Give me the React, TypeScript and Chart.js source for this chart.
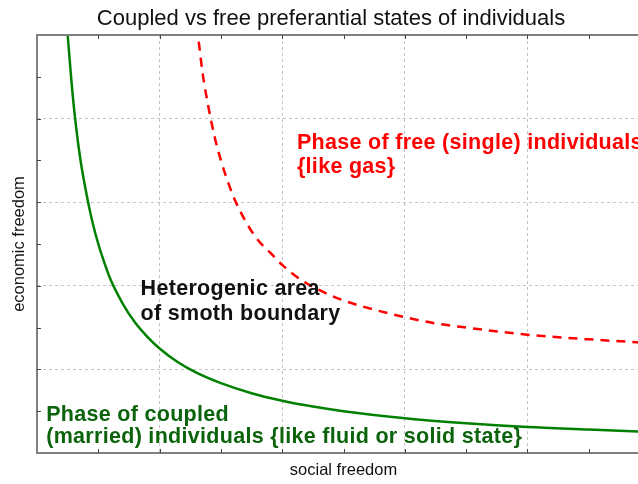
import React, { useEffect, useRef } from "react";
import { Chart, registerables } from "chart.js";

Chart.register(...registerables);

const TITLE = "Coupled vs free preferantial states of individuals";
const X_TITLE = "social freedom";
const Y_TITLE = "economic freedom";

// coupled (married) boundary — solid green
const greenX = [0.48, 0.5, 0.55, 0.6, 0.7, 0.8, 0.9, 1.0, 1.1, 1.2, 1.4, 1.6, 1.8, 2.0, 2.3, 2.6, 3.0, 3.5, 4.0, 4.5, 5.0, 6.0, 7.0, 8.0, 9.0, 10.0];
const greenY = [10.4, 10.0, 9.1, 8.3, 7.1, 6.25, 5.55, 5.0, 4.55, 4.15, 3.57, 3.12, 2.78, 2.5, 2.17, 1.92, 1.67, 1.43, 1.25, 1.11, 1.0, 0.83, 0.71, 0.62, 0.56, 0.5];

// free (single) boundary — dashed red
const redX = [2.58, 2.6, 2.65, 2.7, 2.8, 2.9, 3.0, 3.1, 3.2, 3.4, 3.6, 3.8, 4.0, 4.3, 4.6, 5.0, 5.5, 6.0, 6.5, 7.0, 8.0, 9.0, 10.0];
const redY = [10.6, 10.3, 9.7, 9.1, 8.25, 7.55, 7.0, 6.55, 6.15, 5.55, 5.1, 4.8, 4.5, 4.15, 3.9, 3.65, 3.43, 3.25, 3.1, 3.0, 2.83, 2.72, 2.63];

const minorTicks = [1, 2, 3, 4, 5, 6, 7, 8, 9];
const gridValues = [2, 4, 6, 8];

const redLabel = ["Phase of free (single) individuals", "{like gas}"];
const blackLabel = ["Heterogenic area", "of smoth boundary"];
const greenLabel = ["Phase of coupled", "(married) individuals {like fluid or solid state}"];

const FONT = '"Liberation Sans", Arial, Helvetica, sans-serif';

const textBlocks = [
  { lines: redLabel, x: 4.24, y: 7.27, color: "#ff0000", step: 23.5 },
  { lines: blackLabel, x: 1.69, y: 3.78, color: "#111111", step: 25 },
  { lines: greenLabel, x: 0.15, y: 0.77, color: "#0b640b", step: 22.5 },
];

const decorPlugin = {
  id: "decor",
  afterDatasetsDraw(chart: any) {
    const { ctx, scales } = chart;
    const xs = scales.x;
    const ys = scales.y;
    ctx.save();
    ctx.font = `bold 21.5px ${FONT}`;
    (ctx as any).letterSpacing = "0.3px";
    ctx.textAlign = "left";
    ctx.textBaseline = "alphabetic";
    for (const b of textBlocks) {
      const px = xs.getPixelForValue(b.x);
      const py = ys.getPixelForValue(b.y);
      ctx.fillStyle = b.color;
      b.lines.forEach((line, i) => ctx.fillText(line, px, py + i * b.step));
    }
    ctx.restore();
  },
  afterDraw(chart: any) {
    const { ctx, chartArea, scales, width } = chart;
    const { left, top, right, bottom } = chartArea;
    ctx.save();
    // title
    ctx.font = `22px ${FONT}`;
    ctx.fillStyle = "#111";
    ctx.textAlign = "center";
    ctx.textBaseline = "alphabetic";
    ctx.fillText(TITLE, width / 2, 24.5);
    // frame
    ctx.strokeStyle = "#808080";
    ctx.lineWidth = 2;
    ctx.beginPath();
    ctx.moveTo(right + 5, top);
    ctx.lineTo(left, top);
    ctx.lineTo(left, bottom);
    ctx.lineTo(right + 5, bottom);
    ctx.stroke();
    // minor tick marks
    ctx.strokeStyle = "#444";
    ctx.lineWidth = 1;
    ctx.beginPath();
    for (const v of minorTicks) {
      const px = Math.round(scales.x.getPixelForValue(v)) + 0.5;
      ctx.moveTo(px, top);
      ctx.lineTo(px, top + 4);
      ctx.moveTo(px, bottom);
      ctx.lineTo(px, bottom - 4);
      const py = Math.round(scales.y.getPixelForValue(v)) + 0.5;
      ctx.moveTo(left, py);
      ctx.lineTo(left + 4, py);
    }
    ctx.stroke();
    ctx.restore();
  },
};

export default function App() {
  const ref = useRef<HTMLCanvasElement>(null);
  useEffect(() => {
    if (!ref.current) return;
    const gridColor = (c: any) =>
      c.tick && gridValues.includes(c.tick.value) ? "#c4c4c4" : "rgba(0,0,0,0)";
    const chart = new Chart(ref.current, {
      type: "scatter",
      data: {
        datasets: [
          {
            label: "coupled",
            data: greenX.map((x, i) => ({ x, y: greenY[i] })),
            showLine: true,
            borderColor: "#008000",
            borderWidth: 2.5,
            pointRadius: 0,
            cubicInterpolationMode: "monotone",
          },
          {
            label: "free",
            data: redX.map((x, i) => ({ x, y: redY[i] })),
            showLine: true,
            borderColor: "#ff0000",
            borderWidth: 2.5,
            borderDash: [9, 7],
            pointRadius: 0,
            cubicInterpolationMode: "monotone",
          },
        ],
      },
      options: {
        animation: false,
        responsive: false,
        devicePixelRatio: 1,
        layout: { padding: { left: 0, top: 35, right: 12, bottom: 0 } },
        plugins: {
          legend: { display: false },
          tooltip: { enabled: false },
          title: { display: false },
        },
        scales: {
          x: {
            type: "linear",
            min: 0,
            max: 10,
            ticks: { display: false, stepSize: 1 },
            grid: { color: gridColor, lineWidth: 1, drawTicks: false },
            border: { display: false, dash: [3, 3] },
            title: {
              display: true,
              text: X_TITLE,
              color: "#111",
              font: { family: FONT, size: 16.5 },
              padding: { top: 0, bottom: 3.4 },
            },
            afterFit: (s: any) => {
              s.height = 31;
            },
          },
          y: {
            type: "linear",
            min: 0,
            max: 10,
            ticks: { display: false, stepSize: 1 },
            grid: { color: gridColor, lineWidth: 1, drawTicks: false },
            border: { display: false, dash: [3, 3] },
            title: {
              display: true,
              text: Y_TITLE,
              color: "#111",
              font: { family: FONT, size: 16.5 },
              padding: { top: 10, bottom: 0 },
            },
            afterFit: (s: any) => {
              s.width = 37;
            },
          },
        },
      } as any,
      plugins: [decorPlugin],
    });
    return () => chart.destroy();
  }, []);
  return (
    <div
      style={{
        position: "fixed",
        left: 0,
        top: 0,
        width: 638,
        height: 484,
        overflow: "hidden",
        background: "#fff",
      }}
    >
      <canvas ref={ref} width={662} height={484} style={{ display: "block" }} />
    </div>
  );
}
